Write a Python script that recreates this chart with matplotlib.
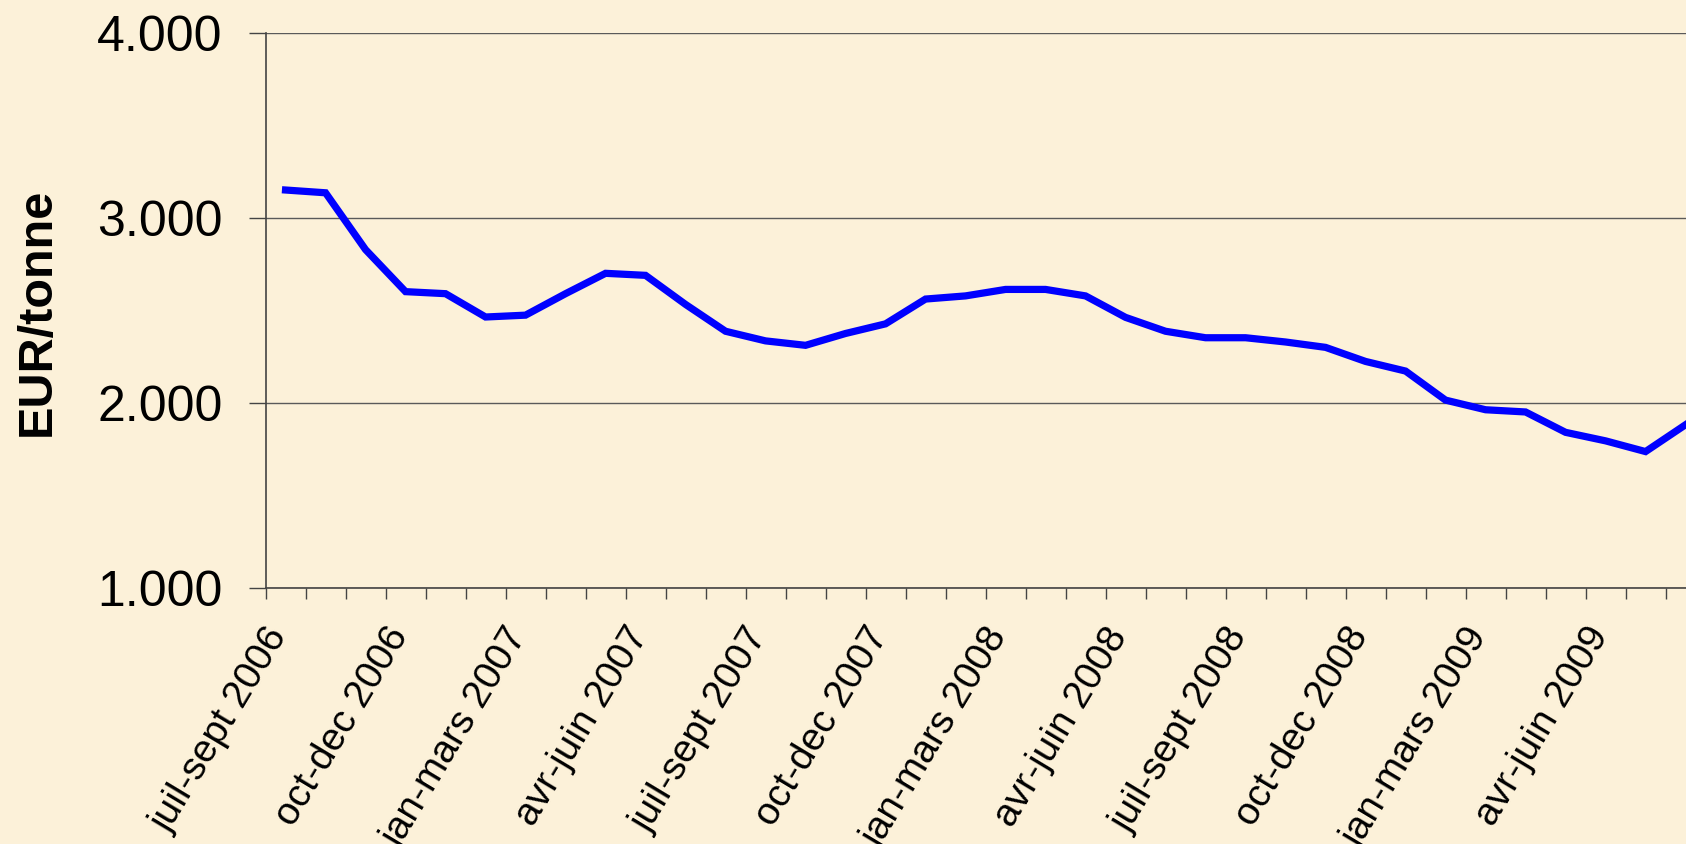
import matplotlib
matplotlib.use("Agg")
import matplotlib.pyplot as plt
import matplotlib.transforms as mtransforms
from matplotlib.ticker import FuncFormatter

plt.rcParams['font.family'] = ['Liberation Sans', 'DejaVu Sans']

# rolling 3-month periods, one per month
periods = [
    "juil-sept 2006", "aout-oct 2006", "sept-nov 2006",
    "oct-dec 2006", "nov-jan 2007", "dec-fev 2007",
    "jan-mars 2007", "fev-avr 2007", "mars-mai 2007",
    "avr-juin 2007", "mai-juil 2007", "juin-aout 2007",
    "juil-sept 2007", "aout-oct 2007", "sept-nov 2007",
    "oct-dec 2007", "nov-jan 2008", "dec-fev 2008",
    "jan-mars 2008", "fev-avr 2008", "mars-mai 2008",
    "avr-juin 2008", "mai-juil 2008", "juin-aout 2008",
    "juil-sept 2008", "aout-oct 2008", "sept-nov 2008",
    "oct-dec 2008", "nov-jan 2009", "dec-fev 2009",
    "jan-mars 2009", "fev-avr 2009", "mars-mai 2009",
    "avr-juin 2009", "mai-juil 2009", "juin-aout 2009",
]
prices = [
    3150, 3135, 2828, 2601, 2590, 2464, 2474, 2590, 2700,
    2689, 2532, 2387, 2335, 2311, 2375, 2427, 2561, 2578,
    2613, 2613, 2578, 2462, 2387, 2352, 2352, 2329, 2300,
    2224, 2172, 2015, 1963, 1951, 1841, 1795, 1737, 1882,
]
yticks = [1000, 2000, 3000, 4000]

bg = "#FCF1D9"
n = len(prices)

fig = plt.figure(figsize=(16.86, 8.44), dpi=100, facecolor=bg)
# plot runs off the right edge, as in the source
ax = fig.add_axes([0.1575, 0.3033, 36 * 40 / 1686, 0.658])
ax.set_facecolor(bg)

x = list(range(n))
ax.plot(x, prices, color="#0000FF", lw=5.2, solid_joinstyle="miter", clip_on=False)

ax.set_xlim(-0.5, n - 0.5)
ax.set_ylim(1000, 4000)
ax.set_yticks(yticks)
ax.yaxis.set_major_formatter(FuncFormatter(lambda v, p: f"{int(v):,}".replace(",", ".")))
ax.grid(axis="y", color="#5a5a5a", lw=1.0)
ax.set_axisbelow(True)

# tick marks between categories, label every third period
ax.set_xticks([i - 0.5 for i in range(n + 1)])
ax.set_xticklabels([])
ax.tick_params(axis="x", length=8, width=1.0, color="#444444")
lab_tr = ax.get_xaxis_transform() + mtransforms.ScaledTranslation(-0.21, -0.33, fig.dpi_scale_trans)
for i in x[::3]:
    ax.text(i, 0, periods[i], transform=lab_tr, rotation=59, ha="right", va="top",
            rotation_mode="anchor", fontsize=28, clip_on=False)

ax.tick_params(axis="y", length=12, width=1.0, color="#444444", labelsize=36, pad=19)

for s in ["top", "right"]:
    ax.spines[s].set_visible(False)
for s in ["left", "bottom"]:
    ax.spines[s].set_color("#444444")
    ax.spines[s].set_linewidth(1.2)

fig.text(0.022, 0.63, "EUR/tonne", rotation=90, fontsize=35, fontweight="bold",
         ha="center", va="center")

fig.savefig("out.png", dpi=100, facecolor=bg)
